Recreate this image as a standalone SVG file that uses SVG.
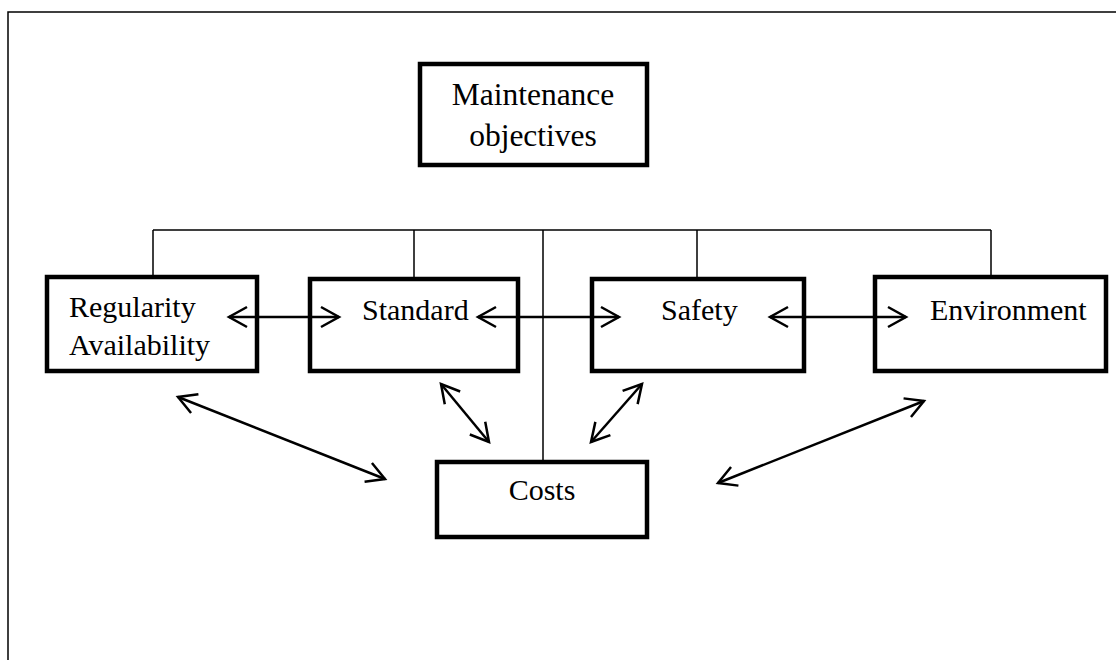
<svg xmlns="http://www.w3.org/2000/svg" width="1116" height="660" viewBox="0 0 1116 660">
<style>
.box{fill:#fff;stroke:#000;stroke-width:4.5}
.t{font-family:"Liberation Serif","Times New Roman",serif;font-size:30px;fill:#000}
.big{font-size:31.5px}
.bus{stroke:#000;stroke-width:1.5;fill:none}
.arr{stroke:#000;stroke-width:2.5;fill:none;marker-start:url(#ah);marker-end:url(#ah)}
</style>
<defs>
<marker id="ah" viewBox="0 0 24 24" refX="21" refY="12" markerWidth="24" markerHeight="24" markerUnits="userSpaceOnUse" orient="auto-start-reverse">
<path d="M3 2 L21 12 L3 22" fill="none" stroke="#000" stroke-width="2.5"/>
</marker>
</defs>
<rect width="1116" height="660" fill="#fff"/>
<path d="M8 660 V12 H1116" fill="none" stroke="#000" stroke-width="1.5"/>
<g id="maintenance">
<rect class="box" x="420" y="64" width="227" height="101"/>
<text class="t big" x="533" y="105" text-anchor="middle">Maintenance</text>
<text class="t big" x="533" y="146" text-anchor="middle">objectives</text>
</g>
<g id="regularity">
<rect class="box" x="47" y="277" width="210" height="94"/>
<text class="t" x="69" y="317">Regularity</text>
<text class="t" x="69" y="355">Availability</text>
</g>
<g id="standard">
<rect class="box" x="310" y="279" width="208" height="92"/>
<text class="t" x="362" y="320">Standard</text>
</g>
<g id="safety">
<rect class="box" x="592" y="279" width="212" height="92"/>
<text class="t" x="661" y="320">Safety</text>
</g>
<g id="environment">
<rect class="box" x="875" y="277" width="231" height="94"/>
<text class="t" x="930" y="320">Environment</text>
</g>
<g id="costs">
<rect class="box" x="437" y="462" width="210" height="75"/>
<text class="t" x="542" y="500" text-anchor="middle">Costs</text>
</g>
<g id="connectors">
<path class="bus" d="M153 230 H991 M153 230 V275 M414 230 V277 M543 230 V460 M697 230 V277 M991 230 V275"/>
<line class="arr" x1="229" y1="317" x2="339" y2="317"/>
<line class="arr" x1="478" y1="317" x2="619" y2="317"/>
<line class="arr" x1="770" y1="317" x2="906" y2="317"/>
<line class="arr" x1="178" y1="397" x2="385" y2="479"/>
<line class="arr" x1="441" y1="384" x2="489" y2="442"/>
<line class="arr" x1="642" y1="384" x2="591" y2="442"/>
<line class="arr" x1="924" y1="401" x2="718" y2="483"/>
</g>
</svg>
